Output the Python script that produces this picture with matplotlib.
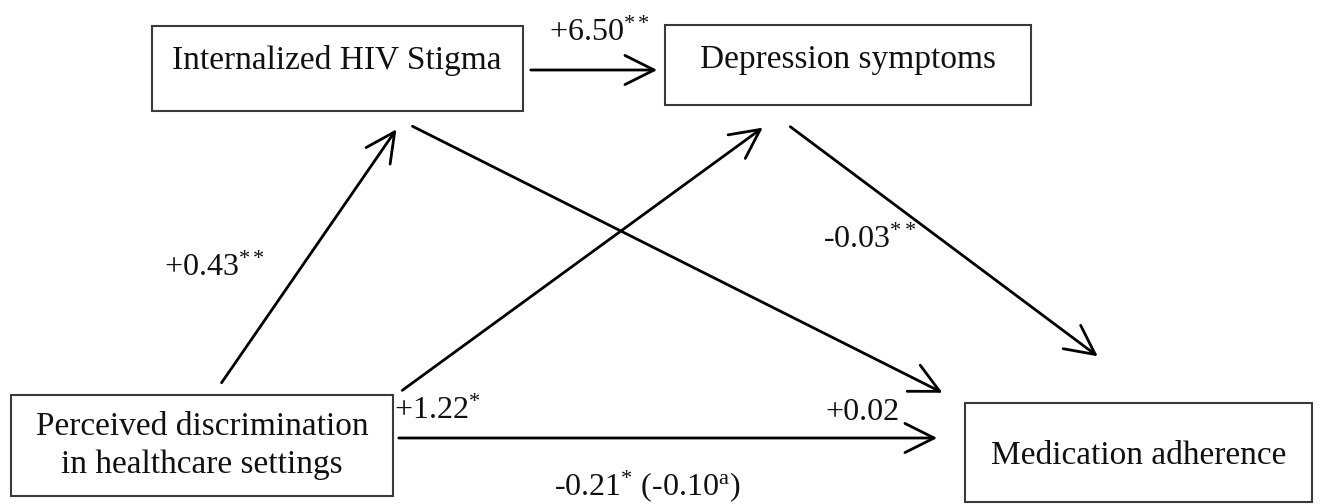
import matplotlib
matplotlib.use("Agg")
import matplotlib.pyplot as plt
from matplotlib.patches import Rectangle, FancyArrowPatch

# path model: node labels and path coefficients
nodes = [
    "Internalized HIV Stigma",
    "Depression symptoms",
    "Perceived discrimination\nin healthcare settings",
    "Medication adherence",
]
coef_labels = [
    r"+6.50$^{**}$",
    r"+0.43$^{**}$",
    r"+0.02",
    r"+1.22$^{*}$",
    r"-0.03$^{**}$",
    r"-0.21$^{*}$ (-0.10$^{\rm a}$)",
]

# layout in pixel coordinates (x0, y0, x1, y1)
boxes = [
    (152, 26, 523, 111),
    (665, 25, 1031, 105),
    (11, 395, 393, 496),
    (965, 403, 1312, 502),
]
text_pos = [(337, 60), (848, 60), (202, 446), (1139, 456)]
arrows = [
    ((528, 70), (660, 70)),
    ((220, 385), (398, 127)),
    ((410, 125), (945, 394)),
    ((400, 392), (765, 126)),
    ((788, 125), (1100, 358)),
    ((396, 438), (940, 438)),
]
label_pos = [(600, 33), (215, 268), (862, 413), (437, 411), (870, 240), (647, 486)]

plt.rcParams["font.family"] = ["Liberation Serif", "DejaVu Serif"]
plt.rcParams["mathtext.fontset"] = "custom"
plt.rcParams["mathtext.rm"] = "Liberation Serif"
plt.rcParams["mathtext.it"] = "Liberation Serif"

fig = plt.figure(figsize=(13.2, 5.04), dpi=100)
ax = fig.add_axes([0, 0, 1, 1])
ax.set_xlim(0, 1320)
ax.set_ylim(504, 0)
ax.axis("off")

for (x0, y0, x1, y1), label, (tx, ty) in zip(boxes, nodes, text_pos):
    ax.add_patch(Rectangle((x0, y0), x1 - x0, y1 - y0, fill=False,
                           edgecolor="#3a3a3a", linewidth=1.5))
    ax.text(tx, ty, label, ha="center", va="center", fontsize=24,
            linespacing=1.3, color="#111111")

for start, end in arrows:
    ax.add_patch(FancyArrowPatch(start, end, arrowstyle="->,head_length=14,head_width=7",
                                 color="black", linewidth=2.0, mutation_scale=1.5))

for (lx, ly), lab in zip(label_pos, coef_labels):
    ax.text(lx, ly, lab, ha="center", va="center", fontsize=23, color="#111111")

fig.savefig("out.png", dpi=100)
